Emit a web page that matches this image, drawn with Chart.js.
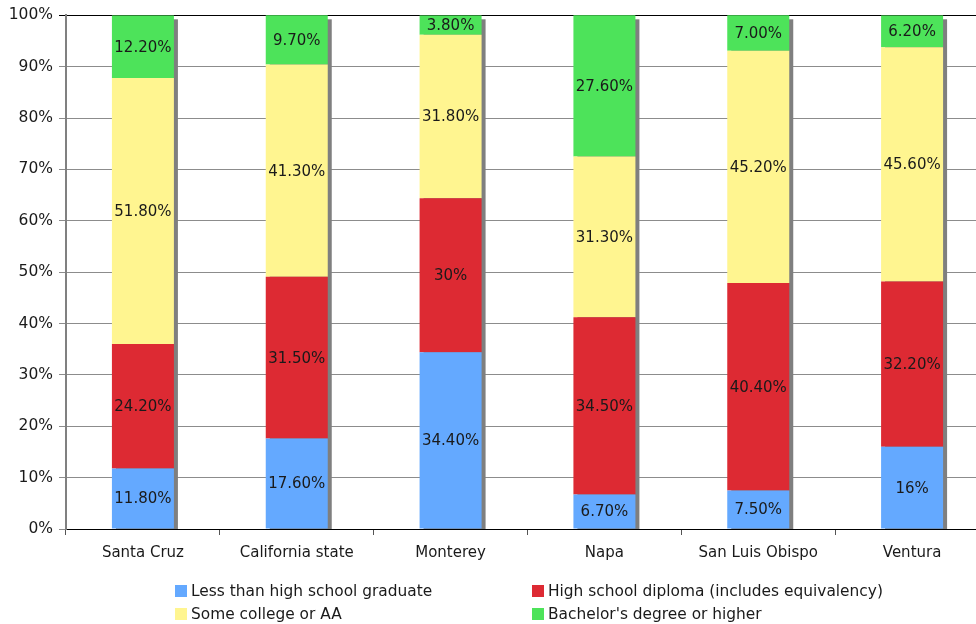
<!DOCTYPE html>
<html>
<head>
<meta charset="utf-8">
<script src="https://cdn.jsdelivr.net/npm/chart.js@4"></script>
<style>
  body { margin: 0; background: #fff; }
  #wrap { position: relative; width: 976px; height: 624px; overflow: hidden; }
  #legend { position: absolute; left: 0; top: 0; font-family: Verdana, "DejaVu Sans", sans-serif; font-size: 15.4px; color: #1a1a1a; }
  .item { position: absolute; white-space: nowrap; line-height: 14px; }
  .item span { display: inline-block; width: 12px; height: 12px; vertical-align: -1px; margin-right: 4px; }
</style>
</head>
<body>
<div id="wrap">
  <!-- plot runs a little past the right edge, which is cut off -->
  <canvas id="myChart" width="989" height="624"></canvas>
  <div id="legend"></div>
</div>
<script>
// percentages as printed on the segments
const counties = ["Santa Cruz", "California state", "Monterey", "Napa", "San Luis Obispo", "Ventura"];
const lessThanHS = ["11.80", "17.60", "34.40", "6.70", "7.50", "16"];
const hsDiploma = ["24.20", "31.50", "30", "34.50", "40.40", "32.20"];
const someCollege = ["51.80", "41.30", "31.80", "31.30", "45.20", "45.60"];
const bachelors = ["12.20", "9.70", "3.80", "27.60", "7.00", "6.20"];
const seriesNames = ["Less than high school graduate", "High school diploma (includes equivalency)", "Some college or AA", "Bachelor's degree or higher"];
const colors = ["#64a9ff", "#dd2a33", "#fff590", "#4de35a"];

const font = "Verdana, 'DejaVu Sans', sans-serif";

// gray drop shadow on the right of each stacked column
const barShadow = {
  id: 'barShadow',
  beforeDatasetsDraw(chart) {
    const ctx = chart.ctx;
    const area = chart.chartArea;
    const top = chart.getDatasetMeta(chart.data.datasets.length - 1).data;
    const bottom = chart.getDatasetMeta(0).data;
    ctx.save();
    ctx.beginPath();
    ctx.rect(area.left, area.top, area.right - area.left, area.bottom - area.top);
    ctx.clip();
    ctx.fillStyle = '#7f7f7f';
    top.forEach((bar, i) => {
      const b = bottom[i].base;
      const y = Math.max(bar.y, area.top);
      ctx.fillRect(bar.x - bar.width / 2 + 4, y + 4, bar.width, b - y);
    });
    ctx.restore();
  }
};

// percentage text centred in each segment
const segmentLabels = {
  id: 'segmentLabels',
  afterDatasetsDraw(chart) {
    const ctx = chart.ctx;
    const area = chart.chartArea;
    ctx.save();
    ctx.font = '15px ' + font;
    ctx.fillStyle = '#1a1a1a';
    ctx.textAlign = 'center';
    ctx.textBaseline = 'middle';
    chart.data.datasets.forEach((ds, d) => {
      chart.getDatasetMeta(d).data.forEach((bar, i) => {
        const y1 = Math.max(bar.y, area.top);
        let y = (y1 + bar.base) / 2 + 1;
        if (y < area.top + 6) y = area.top + 6;
        ctx.fillText(ds.data[i] + '%', bar.x, y);
      });
    });
    ctx.restore();
  }
};

let ctx = document.getElementById('myChart').getContext('2d');

let barChart = new Chart(ctx, {
  type: 'bar',
  data: {
    labels: counties,
    datasets: [lessThanHS, hsDiploma, someCollege, bachelors].map((vals, i) => ({
      label: seriesNames[i],
      data: vals,
      backgroundColor: colors[i],
      categoryPercentage: 1,
      barPercentage: 0.403
    }))
  },
  options: {
    responsive: false,
    animation: false,
    layout: { padding: { top: 14, right: 0, left: 0, bottom: 0 } },
    plugins: {
      legend: { display: false },
      tooltip: { enabled: false }
    },
    scales: {
      x: {
        stacked: true,
        afterFit: (s) => { s.height = 95; },
        grid: { drawOnChartArea: false, tickLength: 6, color: '#555' },
        border: { color: '#000', width: 1 },
        ticks: { font: { family: font, size: 15 }, color: '#1a1a1a', padding: 9, maxRotation: 0 }
      },
      y: {
        stacked: true,
        min: 0,
        max: 100,
        afterFit: (s) => { s.width = 66; },
        grid: {
          color: (c) => c.tick.value === 100 ? '#000' : '#8c8c8c',
          tickLength: 7
        },
        border: { color: '#808080', width: 2 },
        ticks: {
          stepSize: 10,
          padding: 6,
          font: { family: font, size: 15.5 },
          color: '#1a1a1a',
          callback: (v) => v + '%'
        }
      }
    }
  },
  plugins: [barShadow, segmentLabels]
});

// two-column legend under the axis
const legendPos = [[175, 584], [532, 584], [175, 607], [532, 607]];
const legend = document.getElementById('legend');
seriesNames.forEach((name, i) => {
  const el = document.createElement('div');
  el.className = 'item';
  el.style.left = legendPos[i][0] + 'px';
  el.style.top = legendPos[i][1] + 'px';
  el.innerHTML = '<span style="background:' + colors[i] + '"></span>' + name;
  legend.appendChild(el);
});
</script>
</body>
</html>
